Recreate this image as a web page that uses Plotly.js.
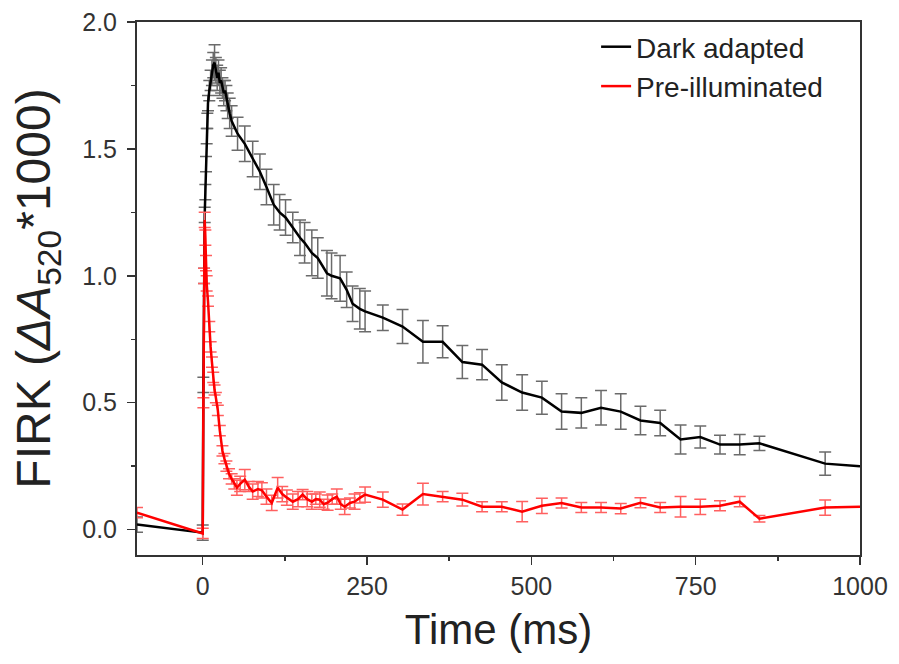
<!DOCTYPE html>
<html>
<head>
<meta charset="utf-8">
<script src="https://cdn.plot.ly/plotly-3.0.1.min.js"></script>
<style>html,body{margin:0;padding:0;background:#fff;}#chart{width:899px;height:664px;}</style>
</head>
<body>
<div id="chart"></div>
<script>
// Dark adapted series
const darkX = [-100, 0, 1, 2, 3, 4, 5, 6, 7, 8, 10, 12, 14, 16, 18, 20, 22, 24, 26, 28, 30, 32, 34, 36, 38, 41, 44, 53, 64, 76, 87, 97, 108, 117, 126, 137, 148, 155, 166, 175, 189, 196, 209, 219, 228, 239, 247, 274, 304, 335, 365, 395, 425, 455, 486, 516, 546, 576, 606, 636, 666, 696, 727, 757, 787, 817, 847, 947, 1000];
const darkY = [0.02, -0.012, 0.57, 1.0, 1.24, 1.33, 1.44, 1.55, 1.61, 1.68, 1.73, 1.77, 1.80, 1.83, 1.84, 1.81, 1.78, 1.80, 1.76, 1.77, 1.74, 1.72, 1.73, 1.70, 1.67, 1.64, 1.61, 1.56, 1.52, 1.46, 1.41, 1.35, 1.28, 1.25, 1.23, 1.19, 1.15, 1.13, 1.09, 1.07, 1.01, 1.00, 0.99, 0.945, 0.89, 0.87, 0.86, 0.835, 0.80, 0.74, 0.74, 0.66, 0.65, 0.58, 0.54, 0.52, 0.465, 0.46, 0.48, 0.465, 0.43, 0.42, 0.355, 0.365, 0.335, 0.335, 0.34, 0.26, 0.25];
const darkErr = [0.03, 0.03, 0.03, 0.03, 0.03, 0.03, 0.03, 0.03, 0.03, 0.03, 0.04, 0.04, 0.05, 0.05, 0.07, 0.05, 0.05, 0.05, 0.05, 0.05, 0.04, 0.05, 0.04, 0.05, 0.05, 0.06, 0.06, 0.065, 0.07, 0.07, 0.07, 0.07, 0.08, 0.07, 0.07, 0.06, 0.07, 0.08, 0.09, 0.08, 0.09, 0.09, 0.09, 0.07, 0.07, 0.08, 0.08, 0.05, 0.067, 0.084, 0.063, 0.065, 0.06, 0.07, 0.07, 0.065, 0.07, 0.06, 0.068, 0.07, 0.056, 0.05, 0.057, 0.043, 0.037, 0.04, 0.028, 0.046, 0];

// Pre-illuminated series
const preX = [-100, 0, 1, 2, 3, 4, 5, 6, 8, 10, 12, 14, 16, 18, 20, 23, 26, 30, 33, 36, 40, 44, 48, 52, 57, 64, 70, 76, 84, 90, 97, 105, 114, 121, 128, 137, 145, 152, 159, 166, 172, 178, 184, 190, 197, 204, 210, 216, 224, 231, 239, 247, 274, 304, 335, 365, 395, 425, 455, 486, 516, 546, 576, 606, 636, 666, 696, 727, 757, 787, 817, 847, 947, 1000];
const preY = [0.067, -0.015, 0.5, 1.0, 1.22, 1.15, 1.05, 0.97, 0.9, 0.8, 0.72, 0.66, 0.6, 0.55, 0.52, 0.47, 0.39, 0.31, 0.28, 0.25, 0.22, 0.2, 0.18, 0.165, 0.18, 0.197, 0.17, 0.15, 0.16, 0.155, 0.13, 0.105, 0.165, 0.14, 0.126, 0.11, 0.12, 0.138, 0.12, 0.11, 0.12, 0.118, 0.1, 0.106, 0.12, 0.13, 0.1, 0.09, 0.105, 0.11, 0.125, 0.138, 0.118, 0.079, 0.14, 0.13, 0.118, 0.09, 0.09, 0.071, 0.094, 0.105, 0.087, 0.087, 0.083, 0.106, 0.087, 0.09, 0.09, 0.094, 0.11, 0.043, 0.087, 0.09];
const preErr = [0.02, 0.02, 0.02, 0.03, 0.03, 0.03, 0.03, 0.03, 0.02, 0.02, 0.02, 0.02, 0.02, 0.02, 0.02, 0.02, 0.02, 0.02, 0.02, 0.02, 0.02, 0.02, 0.02, 0.03, 0.03, 0.04, 0.02, 0.03, 0.03, 0.03, 0.03, 0.03, 0.04, 0.03, 0.03, 0.03, 0.03, 0.02, 0.03, 0.03, 0.02, 0.03, 0.02, 0.03, 0.02, 0.03, 0.02, 0.03, 0.02, 0.03, 0.02, 0.03, 0.03, 0.022, 0.043, 0.02, 0.025, 0.02, 0.02, 0.04, 0.03, 0.02, 0.02, 0.02, 0.02, 0.02, 0.02, 0.04, 0.03, 0.02, 0.02, 0.013, 0.03, 0];

const seriesNames = ['Dark adapted', 'Pre-illuminated'];
const xTickVals = [0, 250, 500, 750, 1000];
const yTickVals = [0.0, 0.5, 1.0, 1.5, 2.0];
const yTickText = ['0.0', '0.5', '1.0', '1.5', '2.0'];

const FONT = 'Liberation Sans, Arial, sans-serif';

const traces = [
  {
    x: darkX, y: darkY, name: seriesNames[0], type: 'scatter', mode: 'lines',
    line: {color: '#000000', width: 2.5},
    error_y: {type: 'data', array: darkErr, visible: true, color: '#6b6b6b', thickness: 1.5, width: 6}
  },
  {
    x: preX, y: preY, name: seriesNames[1], type: 'scatter', mode: 'lines',
    line: {color: '#ff0000', width: 2.5},
    error_y: {type: 'data', array: preErr, visible: true, color: '#ff6060', thickness: 1.5, width: 6}
  }
];

const axisFont = {family: FONT, size: 25, color: '#333333'};

const layout = {
  width: 899, height: 664,
  margin: {l: 137, r: 39, t: 22, b: 109},
  paper_bgcolor: '#ffffff', plot_bgcolor: '#ffffff',
  font: {family: FONT, color: '#222222'},
  showlegend: true,
  legend: {
    x: 0.635, y: 1.0, xanchor: 'left', yanchor: 'top',
    font: {family: FONT, size: 28, color: '#222222'},
    bgcolor: 'rgba(0,0,0,0)', borderwidth: 0, tracegroupgap: 4
  },
  xaxis: {
    range: [-100, 1000],
    tickvals: xTickVals,
    ticks: 'outside', ticklen: 8, tickwidth: 1.5, tickcolor: '#333333',
    minor: {ticks: 'outside', ticklen: 4, tickwidth: 1.5, tickcolor: '#333333', dtick: 125, tick0: 0, showgrid: false},
    showline: true, linecolor: '#333333', linewidth: 2, mirror: true,
    showgrid: false, zeroline: false,
    tickfont: axisFont,
    title: {text: 'Time (ms)', font: {family: FONT, size: 42, color: '#222222'}, standoff: 16}
  },
  yaxis: {
    range: [-0.1, 2.0],
    tickvals: yTickVals, ticktext: yTickText,
    ticks: 'outside', ticklen: 8, tickwidth: 1.5, tickcolor: '#333333',
    ticklabelstandoff: 5,
    minor: {ticks: 'outside', ticklen: 4, tickwidth: 1.5, tickcolor: '#333333', dtick: 0.25, tick0: 0, showgrid: false},
    showline: true, linecolor: '#333333', linewidth: 2, mirror: true,
    showgrid: false, zeroline: false,
    tickfont: axisFont,
    title: {text: 'FIRK (<i>ΔA</i><sub>520</sub>*1000)', font: {family: FONT, size: 48, color: '#222222'}, standoff: 16}
  }
};

Plotly.newPlot('chart', traces, layout, {displayModeBar: false, staticPlot: true});
</script>
</body>
</html>
